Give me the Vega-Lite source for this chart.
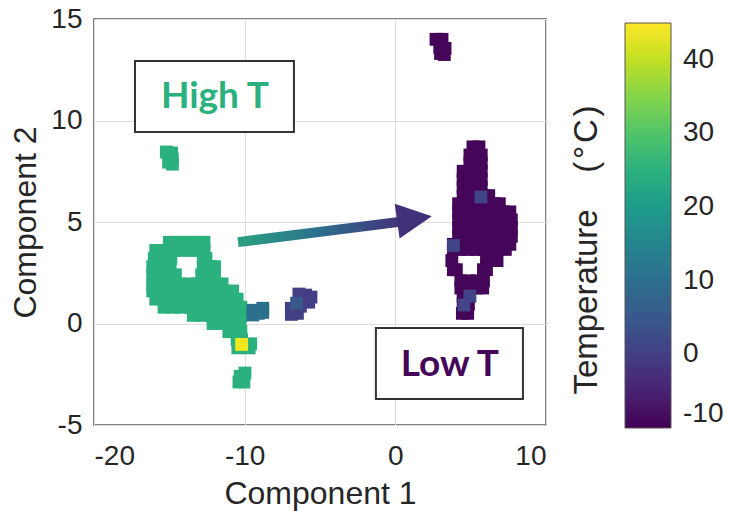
{
"$schema":"https://vega.github.io/schema/vega-lite/v6.json",
"width":452,"height":406,
"autosize":{"type":"none"},
"padding":{"left":94,"top":19,"right":183,"bottom":86},
"background":"white",
"config":{
 "view":{"stroke":"#555555","strokeWidth":1.5},
 "font":"Liberation Sans",
 "axis":{"grid":true,"gridColor":"#dedede","gridWidth":1,"domain":false,"ticks":false,"labelFont":"Liberation Sans","labelFontSize":28,"labelColor":"#262626","titleFont":"Liberation Sans","titleFontSize":32,"titleFontWeight":"normal","titleColor":"#262626","labelExpr":"datum.value < 0 ? '-' + abs(datum.value) : '' + datum.value"}
},
"datasets":{
"pts":[
{"x":-15.0,"y":4.0,"t":25},{"x":-14.4,"y":4.0,"t":25},{"x":-13.8,"y":4.0,"t":25},{"x":-13.2,"y":4.0,"t":25},{"x":-12.7,"y":4.0,"t":25},
{"x":-15.9,"y":3.6,"t":25},{"x":-15.3,"y":3.6,"t":25},{"x":-14.7,"y":3.6,"t":25},{"x":-14.1,"y":3.6,"t":25},{"x":-13.5,"y":3.6,"t":25},{"x":-12.9,"y":3.6,"t":25},{"x":-12.7,"y":3.6,"t":25},
{"x":-16.0,"y":3.2,"t":25},{"x":-15.4,"y":3.2,"t":25},{"x":-14.9,"y":3.2,"t":25},{"x":-12.75,"y":3.2,"t":25},{"x":-12.57,"y":3.2,"t":25},
{"x":-16.1,"y":2.8,"t":25},{"x":-15.5,"y":2.8,"t":25},{"x":-14.95,"y":2.8,"t":25},{"x":-12.75,"y":2.8,"t":25},{"x":-12.3,"y":2.8,"t":25},{"x":-12.0,"y":2.8,"t":25},
{"x":-16.1,"y":2.4,"t":25},{"x":-15.5,"y":2.4,"t":25},{"x":-14.95,"y":2.4,"t":25},{"x":-14.6,"y":2.4,"t":25},{"x":-12.85,"y":2.4,"t":25},{"x":-12.4,"y":2.4,"t":25},{"x":-12.0,"y":2.4,"t":25},
{"x":-16.1,"y":1.95,"t":25},{"x":-15.5,"y":1.95,"t":25},{"x":-14.9,"y":1.95,"t":25},{"x":-14.3,"y":1.95,"t":25},{"x":-13.7,"y":1.95,"t":25},{"x":-13.1,"y":1.95,"t":25},{"x":-12.5,"y":1.95,"t":25},{"x":-11.9,"y":1.95,"t":25},{"x":-11.5,"y":1.95,"t":25},
{"x":-16.1,"y":1.6,"t":25},{"x":-15.5,"y":1.6,"t":25},{"x":-14.9,"y":1.6,"t":25},{"x":-14.3,"y":1.6,"t":25},{"x":-13.7,"y":1.6,"t":25},{"x":-13.1,"y":1.6,"t":25},{"x":-12.5,"y":1.6,"t":25},{"x":-11.9,"y":1.6,"t":25},{"x":-11.3,"y":1.6,"t":25},{"x":-10.8,"y":1.6,"t":25},
{"x":-15.9,"y":1.2,"t":25},{"x":-15.3,"y":1.2,"t":25},{"x":-14.7,"y":1.2,"t":25},{"x":-14.1,"y":1.2,"t":25},{"x":-13.5,"y":1.2,"t":25},{"x":-12.9,"y":1.2,"t":25},{"x":-12.3,"y":1.2,"t":25},{"x":-11.7,"y":1.2,"t":25},{"x":-11.1,"y":1.2,"t":25},{"x":-10.5,"y":1.2,"t":25},
{"x":-15.35,"y":0.8,"t":25},{"x":-14.8,"y":0.8,"t":25},{"x":-14.2,"y":0.8,"t":25},{"x":-13.6,"y":0.8,"t":25},{"x":-13.0,"y":0.8,"t":25},{"x":-12.4,"y":0.8,"t":25},{"x":-11.8,"y":0.8,"t":25},{"x":-11.2,"y":0.8,"t":25},{"x":-10.6,"y":0.8,"t":25},{"x":-10.25,"y":0.8,"t":25},
{"x":-13.4,"y":0.4,"t":25},{"x":-12.8,"y":0.4,"t":25},{"x":-12.2,"y":0.4,"t":25},{"x":-11.6,"y":0.4,"t":25},{"x":-11.0,"y":0.4,"t":25},{"x":-10.4,"y":0.4,"t":25},{"x":-10.25,"y":0.4,"t":25},
{"x":-12.1,"y":0.0,"t":25},{"x":-11.5,"y":0.0,"t":25},{"x":-10.9,"y":0.0,"t":25},{"x":-10.3,"y":0.0,"t":25},
{"x":-11.05,"y":-0.4,"t":25},{"x":-10.6,"y":-0.4,"t":25},{"x":-10.25,"y":-0.4,"t":25},
{"x":-10.5,"y":-0.8,"t":25},{"x":-10.2,"y":-0.8,"t":25},{"x":-9.6,"y":-1.0,"t":25},{"x":-9.7,"y":-1.2,"t":25},{"x":-10.45,"y":-1.2,"t":25},
{"x":-9.98,"y":-2.44,"t":25},{"x":-10.3,"y":-2.6,"t":25},{"x":-10.38,"y":-2.88,"t":25},{"x":-10.05,"y":-2.88,"t":25},
{"x":-15.2,"y":8.45,"t":25},{"x":-14.85,"y":8.4,"t":25},{"x":-14.8,"y":8.1,"t":25},{"x":-14.8,"y":7.85,"t":25},{"x":-15.05,"y":7.95,"t":25},
{"x":-9.45,"y":0.65,"t":10},{"x":-9.45,"y":0.42,"t":10},{"x":-8.8,"y":0.75,"t":10},{"x":-8.8,"y":0.55,"t":10},{"x":-9.1,"y":0.5,"t":10},
{"x":-6.4,"y":1.45,"t":0},{"x":-5.95,"y":1.4,"t":0},{"x":-5.6,"y":1.3,"t":0},{"x":-6.0,"y":1.1,"t":0},{"x":-5.75,"y":1.05,"t":0},{"x":-6.3,"y":0.85,"t":0},{"x":-6.9,"y":0.75,"t":0},{"x":-6.9,"y":0.45,"t":0},{"x":-6.5,"y":0.5,"t":0},{"x":-6.55,"y":1.0,"t":5},
{"x":2.7,"y":14.0,"t":-9.5},{"x":3.1,"y":14.0,"t":-9.5},{"x":2.95,"y":13.6,"t":-9.5},{"x":3.3,"y":13.55,"t":-9.5},{"x":3.25,"y":13.25,"t":-9.5},{"x":3.0,"y":13.3,"t":-9.5},
{"x":5.15,"y":8.7,"t":-9.5},{"x":5.55,"y":8.7,"t":-9.5},
{"x":4.95,"y":8.3,"t":-9.5},{"x":5.35,"y":8.3,"t":-9.5},{"x":5.7,"y":8.3,"t":-9.5},
{"x":4.95,"y":7.9,"t":-9.5},{"x":5.35,"y":7.9,"t":-9.5},{"x":5.7,"y":7.9,"t":-9.5},
{"x":4.5,"y":7.5,"t":-9.5},{"x":4.95,"y":7.5,"t":-9.5},{"x":5.35,"y":7.5,"t":-9.5},{"x":5.7,"y":7.5,"t":-9.5},
{"x":4.5,"y":7.1,"t":-9.5},{"x":4.95,"y":7.1,"t":-9.5},{"x":5.35,"y":7.1,"t":-9.5},{"x":5.7,"y":7.1,"t":-9.5},
{"x":4.5,"y":6.7,"t":-9.5},{"x":4.95,"y":6.7,"t":-9.5},{"x":5.35,"y":6.7,"t":-9.5},{"x":5.7,"y":6.7,"t":-9.5},
{"x":4.5,"y":6.3,"t":-9.5},{"x":4.95,"y":6.3,"t":-9.5},{"x":5.35,"y":6.3,"t":-9.5},{"x":5.8,"y":6.3,"t":-9.5},{"x":6.2,"y":6.3,"t":-9.5},
{"x":4.2,"y":5.9,"t":-9.5},{"x":4.6,"y":5.9,"t":-9.5},{"x":5.1,"y":5.9,"t":-9.5},{"x":5.6,"y":5.9,"t":-9.5},{"x":6.1,"y":5.9,"t":-9.5},{"x":6.6,"y":5.9,"t":-9.5},{"x":6.9,"y":5.9,"t":-9.5},
{"x":4.2,"y":5.5,"t":-9.5},{"x":4.6,"y":5.5,"t":-9.5},{"x":5.1,"y":5.5,"t":-9.5},{"x":5.6,"y":5.5,"t":-9.5},{"x":6.1,"y":5.5,"t":-9.5},{"x":6.6,"y":5.5,"t":-9.5},{"x":7.1,"y":5.5,"t":-9.5},{"x":7.6,"y":5.5,"t":-9.5},
{"x":4.2,"y":5.1,"t":-9.5},{"x":4.6,"y":5.1,"t":-9.5},{"x":5.1,"y":5.1,"t":-9.5},{"x":5.6,"y":5.1,"t":-9.5},{"x":6.1,"y":5.1,"t":-9.5},{"x":6.6,"y":5.1,"t":-9.5},{"x":7.1,"y":5.1,"t":-9.5},{"x":7.7,"y":5.1,"t":-9.5},
{"x":4.2,"y":4.7,"t":-9.5},{"x":4.6,"y":4.7,"t":-9.5},{"x":5.1,"y":4.7,"t":-9.5},{"x":5.6,"y":4.7,"t":-9.5},{"x":6.1,"y":4.7,"t":-9.5},{"x":6.6,"y":4.7,"t":-9.5},{"x":7.1,"y":4.7,"t":-9.5},{"x":7.7,"y":4.7,"t":-9.5},
{"x":4.2,"y":4.3,"t":-9.5},{"x":4.6,"y":4.3,"t":-9.5},{"x":5.1,"y":4.3,"t":-9.5},{"x":5.6,"y":4.3,"t":-9.5},{"x":6.1,"y":4.3,"t":-9.5},{"x":6.6,"y":4.3,"t":-9.5},{"x":7.1,"y":4.3,"t":-9.5},{"x":7.7,"y":4.3,"t":-9.5},
{"x":3.85,"y":3.9,"t":-9.5},{"x":4.3,"y":3.9,"t":-9.5},{"x":4.8,"y":3.9,"t":-9.5},{"x":5.3,"y":3.9,"t":-9.5},{"x":5.8,"y":3.9,"t":-9.5},{"x":6.3,"y":3.9,"t":-9.5},{"x":6.8,"y":3.9,"t":-9.5},{"x":7.3,"y":3.9,"t":-9.5},{"x":7.6,"y":3.9,"t":-9.5},
{"x":3.85,"y":3.65,"t":-9.5},{"x":4.3,"y":3.65,"t":-9.5},{"x":4.8,"y":3.65,"t":-9.5},{"x":5.3,"y":3.65,"t":-9.5},{"x":5.8,"y":3.65,"t":-9.5},{"x":6.3,"y":3.65,"t":-9.5},{"x":6.8,"y":3.65,"t":-9.5},{"x":7.3,"y":3.65,"t":-9.5},
{"x":3.75,"y":3.1,"t":-9.5},{"x":6.05,"y":3.1,"t":-9.5},{"x":6.4,"y":3.1,"t":-9.5},{"x":6.75,"y":3.1,"t":-9.5},
{"x":3.85,"y":2.65,"t":-9.5},{"x":4.05,"y":2.65,"t":-9.5},{"x":5.85,"y":2.65,"t":-9.5},{"x":6.05,"y":2.65,"t":-9.5},
{"x":4.35,"y":2.1,"t":-9.5},{"x":4.9,"y":2.1,"t":-9.5},{"x":5.4,"y":2.1,"t":-9.5},{"x":5.85,"y":2.1,"t":-9.5},
{"x":4.35,"y":1.75,"t":-9.5},{"x":4.9,"y":1.75,"t":-9.5},{"x":5.4,"y":1.75,"t":-9.5},{"x":5.8,"y":1.75,"t":-9.5},
{"x":4.5,"y":1.35,"t":-9.5},{"x":4.9,"y":1.35,"t":-9.5},
{"x":4.5,"y":0.95,"t":-9.5},{"x":4.85,"y":0.95,"t":-9.5},
{"x":4.45,"y":0.5,"t":-9.5},{"x":4.8,"y":0.5,"t":-9.5},
{"x":5.68,"y":6.23,"t":1},{"x":3.86,"y":3.84,"t":1},{"x":4.95,"y":1.35,"t":1},{"x":4.55,"y":0.91,"t":1},
{"x":-10.2,"y":-1.03,"t":44}
],
"boxes":[
{"x":-17.28,"x2":-6.73,"y":12.93,"y2":9.43},
{"x":-1.29,"x2":8.47,"y":-0.22,"y2":-3.72}
],
"labels":[
{"x":-11.97,"y":11.16,"label":"High T","t":25},
{"x":3.62,"y":-2.04,"label":"Low T","t":-9.3}
],
"shaft":[{"x":-10.44,"y":4.01,"x2":0.4,"y2":5.02}],
"head":[{"x":1.27,"y":5.16}]
},
"layer":[
{"data":{"name":"pts"},
 "mark":{"type":"square","size":165,"opacity":1,"filled":true},
 "encoding":{
  "x":{"field":"x","type":"quantitative","scale":{"domain":[-20,10],"nice":false,"zero":false},"axis":{"values":[-20,-10,0,10],"title":"Component 1","labelPadding":17,"titlePadding":8}},
  "y":{"field":"y","type":"quantitative","scale":{"domain":[-5,15],"nice":false,"zero":false},"axis":{"values":[-5,0,5,10,15],"title":"Component 2","labelPadding":12,"titlePadding":8}},
  "color":{"field":"t","type":"quantitative","scale":{"scheme":"viridis","domain":[-10,45]},
   "legend":{"title":"Temperature\u00a0\u00a0\u00a0\u00a0(\u200a°\u200aC\u200a)\u2800\u2800","orient":"none","legendX":477,"legendY":4,"direction":"vertical","gradientLength":405,"gradientThickness":46,"values":[-10,0,10,20,30,40],"labelExpr":"datum.value < 0 ? '-' + abs(datum.value) : '' + datum.value","labelFontSize":28,"labelFont":"Liberation Sans","labelColor":"#262626","labelOffset":12,"labelOverlap":false,"titleOrient":"left","titleAngle":270,"titleFontSize":33,"titleFont":"Liberation Sans","titleFontWeight":"normal","titleColor":"#262626","titleAnchor":"middle","titlePadding":20,"titleLimit":500,"gradientStrokeColor":"#555555","gradientStrokeWidth":1}}
 }},
{"data":{"name":"shaft"},
 "mark":{"type":"rule","strokeWidth":10,"strokeCap":"butt","stroke":{"gradient":"linear","x1":0,"y1":0,"x2":1,"y2":0,"stops":[{"offset":0,"color":"#2aa081"},{"offset":0.5,"color":"#2d6f8e"},{"offset":1,"color":"#44327c"}]}},
 "encoding":{"x":{"field":"x","type":"quantitative"},"y":{"field":"y","type":"quantitative"},"x2":{"field":"x2"},"y2":{"field":"y2"}}},
{"data":{"name":"head"},
 "mark":{"type":"point","shape":"M -1 -1 L 1 0 L -1 1 Z","size":1225,"filled":true,"fill":"#43307a","opacity":1,"strokeWidth":0,"angle":-8},
 "encoding":{"x":{"field":"x","type":"quantitative"},"y":{"field":"y","type":"quantitative"}}},
{"data":{"name":"boxes"},
 "mark":{"type":"rect","fill":"white","stroke":"#333333","strokeWidth":2},
 "encoding":{"x":{"field":"x","type":"quantitative"},"x2":{"field":"x2"},"y":{"field":"y","type":"quantitative"},"y2":{"field":"y2"}}},
{"data":{"name":"labels"},
 "mark":{"type":"text","font":"Lato","fontWeight":"bold","fontSize":37,"align":"center","baseline":"middle"},
 "encoding":{"x":{"field":"x","type":"quantitative"},"y":{"field":"y","type":"quantitative"},"text":{"field":"label"},"color":{"field":"t","type":"quantitative"}}}
]
}
